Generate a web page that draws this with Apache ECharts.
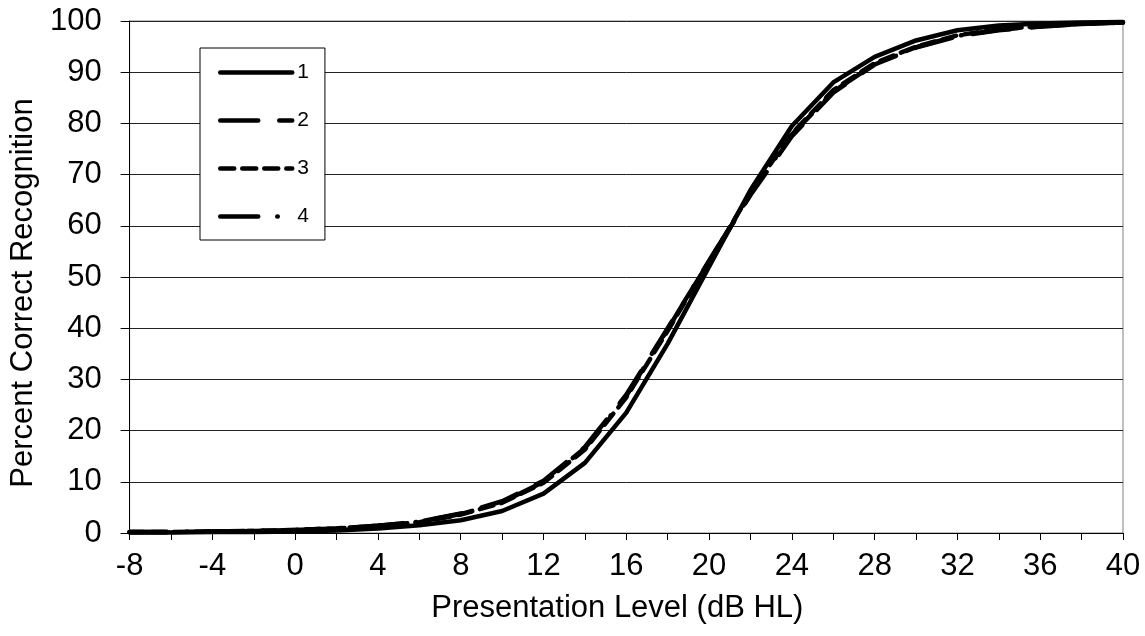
<!DOCTYPE html>
<html>
<head>
<meta charset="utf-8">
<script src="https://cdn.jsdelivr.net/npm/echarts@6/dist/echarts.min.js"></script>
<style>
html,body{margin:0;padding:0;background:#fff;}
#chart{width:1145px;height:636px;}
</style>
</head>
<body>
<div id="chart"></div>
<script>
const levels = [-8,-6,-4,-2,0,2,4,6,8,10,12,14,16,18,20,22,24,26,28,30,32,34,36,38,40];
const series1 = [0.1,0.1,0.2,0.2,0.3,0.5,0.9,1.5,2.5,4.3,7.7,13.7,23.5,37,52,67,79.5,88,93,96.2,98.2,99.1,99.5,99.7,99.8];
const series2 = [0.2,0.2,0.3,0.4,0.6,0.9,1.4,2.2,3.8,6.2,10.2,16.8,27,40,53,66,77.5,86,91.5,94.8,97,98.2,98.9,99.4,99.7];
const series3 = [0.2,0.2,0.3,0.4,0.6,0.9,1.4,2.1,3.6,5.9,9.8,16.3,26.5,39.5,53,66.5,78,86.5,91.8,95,97.2,98.4,99,99.5,99.7];
const series4 = [0.2,0.2,0.3,0.4,0.6,0.9,1.4,2.2,3.7,6.0,10.0,16.6,26.8,39.8,53.2,66.2,77.8,86.2,91.6,94.9,97.1,98.3,99.0,99.4,99.7];
const seriesNames = ['1','2','3','4'];
const yTicks = [0,10,20,30,40,50,60,70,80,90,100];

const FONT = '"Liberation Sans", Arial, sans-serif';
const toPairs = vals => levels.map((x,i)=>[x, vals[i]]);
const dashes = ['solid', [38,21], [14,8], [38,19,0.5,19]];
const allValues = [series1, series2, series3, series4];

const chart = echarts.init(document.getElementById('chart'), null, {renderer:'canvas'});
chart.setOption({
  animation:false,
  backgroundColor:'#fff',
  grid:{left:118, right:22, top:21, bottom:103, show:true, borderColor:'#808080', borderWidth:1, backgroundColor:'transparent'},
  legend:{
    orient:'vertical', left:200, top:48,
    padding:[14,16,13,18],
    itemWidth:72, itemHeight:20, itemGap:27,
    backgroundColor:'#fff', borderColor:'#000', borderWidth:1,
    itemStyle:{opacity:0},
    lineStyle:{width:4.5, cap:'round', join:'round', color:'#000'},
    textStyle:{fontSize:21, color:'#000', fontFamily:FONT},
    data:seriesNames
  },
  xAxis:{
    type:'value', min:-8, max:40, interval:4,
    name:'Presentation Level (dB HL)', nameLocation:'middle', nameGap:60,
    nameTextStyle:{fontSize:31, color:'#000', fontFamily:FONT, padding:[0,18,0,0]},
    axisLine:{show:true, onZero:false, lineStyle:{color:'#000', width:1}},
    axisTick:{show:true, inside:false, length:7, lineStyle:{color:'#000'}},
    minorTick:{show:true, splitNumber:2, length:7, lineStyle:{color:'#000'}},
    axisLabel:{fontSize:31, color:'#000', fontFamily:FONT, margin:18},
    splitLine:{show:false}
  },
  yAxis:{
    type:'value', min:0, max:100, interval:10,
    name:'Percent Correct Recognition', nameLocation:'middle', nameGap:76, nameRotate:90,
    nameTextStyle:{fontSize:31, color:'#000', fontFamily:FONT, padding:[0,32,0,0]},
    axisLine:{show:true, onZero:false, lineStyle:{color:'#000', width:1}},
    axisTick:{show:true, inside:false, length:9, lineStyle:{color:'#000'}},
    axisLabel:{fontSize:31, color:'#000', fontFamily:FONT, margin:28,
      formatter: v => yTicks.includes(v) ? String(v) : ''},
    splitLine:{show:true, lineStyle:{color:'#222', width:1}}
  },
  series: allValues.map((vals,i)=>({
    name:seriesNames[i], type:'line', data:toPairs(vals),
    symbol:'none', showSymbol:false, smooth:false, z:10-i,
    lineStyle:{color:'#000', width:4.5, type:dashes[i], cap:'round', join:'round'},
    itemStyle:{color:'#000'}
  }))
});
</script>
</body>
</html>
